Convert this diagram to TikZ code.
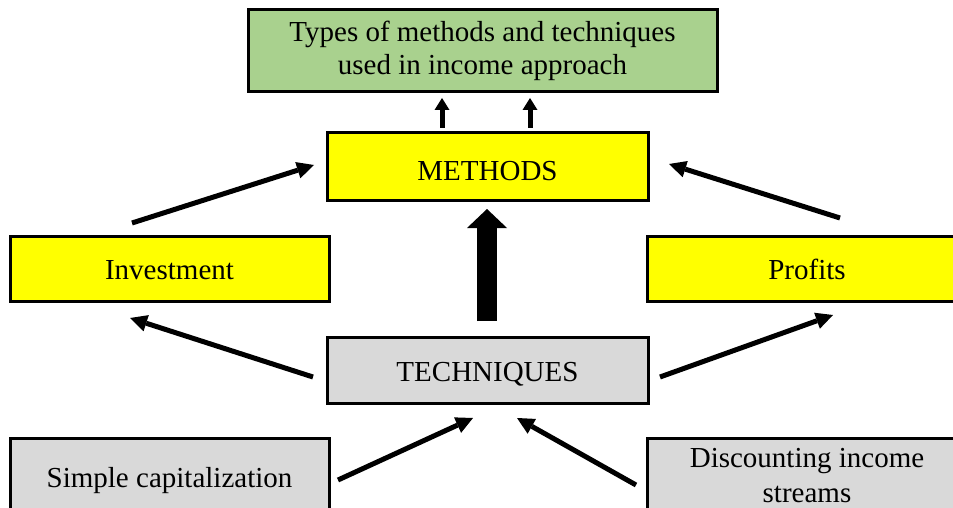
\documentclass[tikz,border=0pt]{standalone}
\usepackage{fontspec}
\setmainfont{Liberation Serif}
\usetikzlibrary{arrows.meta}
\definecolor{boxgreen}{RGB}{169,209,142}
\definecolor{boxyellow}{RGB}{255,255,0}
\definecolor{boxgrey}{RGB}{217,217,217}

\begin{document}
\begin{tikzpicture}[
            x=1pt, y=-1pt,
            basebox/.style={
                draw, line width=3pt, inner sep=0pt, align=center,
                font=\fontsize{29}{35}\selectfont
            },
            oneline/.style={text height=22pt, text depth=0pt},
            greenbox/.style={basebox, fill=boxgreen},
            yellowbox/.style={basebox, fill=boxyellow},
            greybox/.style={basebox, fill=boxgrey},
            flowarrow/.style={
                line width=5pt, -{Triangle[length=17pt, width=17pt, line width=0pt]}
            },
            smallarrow/.style={
                line width=5pt, -{Triangle[length=12pt, width=15pt, line width=0pt]}
            },
            blockarrow/.style={
                line width=20pt, -{Triangle[length=19pt, width=40pt, line width=0pt]}
            }
        ]
        \useasboundingbox (0,0) rectangle (953,508);
        \clip (0,0) rectangle (953,508);

        \node[greenbox, font=\fontsize{29}{33}\selectfont, minimum width=469pt, minimum height=82pt] (types) at (482.5, 51) {Types of methods and techniques\\used in income approach};
        \node[yellowbox, oneline, text height=28pt, minimum width=321pt, minimum height=67pt] (methods) at (487.5, 166.5) {METHODS};
        \node[yellowbox, oneline, minimum width=319pt, minimum height=65pt] (invest) at (169.5, 268.5) {Investment};
        \node[yellowbox, oneline, minimum width=320pt, minimum height=65pt] (profits) at (807, 268.5) {Profits};
        \node[greybox, oneline, minimum width=321pt, minimum height=66pt] (techn) at (487.5, 370) {TECHNIQUES};
        \node[greybox, oneline, minimum width=319pt, minimum height=76pt] (simple) at (169.5, 476) {Simple capitalization};
        \node[greybox, minimum width=320pt, minimum height=76pt] (discount) at (807, 476) {Discounting income\\streams};

        % arrow ends
        \coordinate (methodsL) at (442, 128);
        \coordinate (methodsR) at (530, 128);
        \coordinate (typesL) at (442, 98);
        \coordinate (typesR) at (530, 98);
        \coordinate (investUp) at (132, 223);
        \coordinate (methodsIn1) at (314, 165);
        \coordinate (profitsUp) at (840, 218);
        \coordinate (methodsIn2) at (669, 164);
        \coordinate (technOut1) at (313, 377);
        \coordinate (investIn) at (130, 318);
        \coordinate (technOut2) at (660, 377);
        \coordinate (profitsIn) at (833, 315);
        \coordinate (simpleUp) at (338, 480);
        \coordinate (technIn1) at (473, 418);
        \coordinate (discountUp) at (636, 485);
        \coordinate (technIn2) at (517, 418);
        \coordinate (technTop) at (487, 321);
        \coordinate (methodsBot) at (487, 209);

        % arrows
        \draw[smallarrow] (methodsL) -- (typesL);
        \draw[smallarrow] (methodsR) -- (typesR);
        \draw[blockarrow] (technTop) -- (methodsBot);
        \draw[flowarrow] (investUp) -- (methodsIn1);
        \draw[flowarrow] (profitsUp) -- (methodsIn2);
        \draw[flowarrow] (technOut1) -- (investIn);
        \draw[flowarrow] (technOut2) -- (profitsIn);
        \draw[flowarrow] (simpleUp) -- (technIn1);
        \draw[flowarrow] (discountUp) -- (technIn2);
\end{tikzpicture}
\end{document}
